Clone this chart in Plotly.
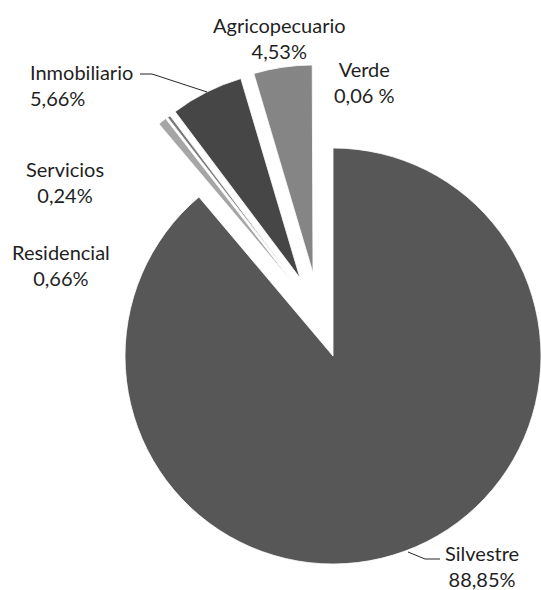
import plotly.graph_objects as go

# Land-use shares (%), in clockwise order starting at 12 o'clock
categories = ["Silvestre", "Residencial", "Servicios", "Inmobiliario", "Agricopecuario", "Verde"]
shares = [88.85, 0.66, 0.24, 5.66, 4.53, 0.06]
value_labels = ["88,85%", "0,66%", "0,24%", "5,66%", "4,53%", "0,06 %"]

# Styling and layout (pixels)
W, H = 541, 590
CX, CY, R = 333, 356, 208
colors = ["#575757", "#a6a6a6", "#7a7a7a", "#464646", "#858585", "#e6e6e6"]
# explode offsets (dx, dy) of each slice's apex from the pie centre
explode = [(0, 0), (-40, -73), (-38, -74), (-33, -78), (-20, -83), (-14, -83)]

# label placement: (x, y, xanchor, align)
label_pos = {
    "Silvestre": (482, 566, "center", "center"),
    "Residencial": (61, 265, "center", "center"),
    "Servicios": (65, 182, "center", "center"),
    "Inmobiliario": (28, 85, "left", "left"),
    "Agricopecuario": (279, 38, "center", "center"),
    "Verde": (364, 82, "center", "center"),
}
# leader lines, in pixel coordinates
leaders = [
    [(140, 74), (152, 74), (207, 92)],
    [(408, 552), (425, 559), (440, 559)],
]


def px_x(x):
    return x / W


def px_y(y):
    return 1 - y / H


def wrap_angle(a):
    return ((a + 180) % 360) - 180


fig = go.Figure()
total = sum(shares)
start = 0.0
for name, v, col, (dx, dy) in zip(categories, shares, colors, explode):
    cx, cy = CX + dx, CY + dy
    fig.add_trace(go.Pie(
        labels=[name, "_rest"],
        values=[v, total - v],
        sort=False,
        direction="clockwise",
        rotation=wrap_angle(start * 360 / total),
        marker=dict(colors=[col, "rgba(0,0,0,0)"],
                    line=dict(color=["white", "rgba(0,0,0,0)"], width=[0.8, 0])),
        textinfo="none",
        hoverinfo="skip",
        showlegend=False,
        domain=dict(x=[px_x(cx - R), min(px_x(cx + R), 1.0)],
                    y=[max(px_y(cy + R), 0.0), px_y(cy - R)]),
    ))
    start += v

annotations = []
for name, vl in zip(categories, value_labels):
    x, y, xa, al = label_pos[name]
    annotations.append(dict(
        x=px_x(x), y=px_y(y), xref="paper", yref="paper",
        xanchor=xa, yanchor="middle", align=al,
        text=f"{name}<br>{vl}", showarrow=False,
        font=dict(family="Lato", size=20, color="#1f1f1f"),
    ))

shapes = []
for pts in leaders:
    path = "M " + " L ".join(f"{px_x(x)},{px_y(y)}" for x, y in pts)
    shapes.append(dict(type="path", path=path, xref="paper", yref="paper",
                       line=dict(color="#262626", width=1)))

fig.update_layout(
    width=W, height=H,
    margin=dict(l=0, r=0, t=0, b=0),
    paper_bgcolor="white", plot_bgcolor="white",
    annotations=annotations, shapes=shapes,
)

fig.write_html("out.html")
